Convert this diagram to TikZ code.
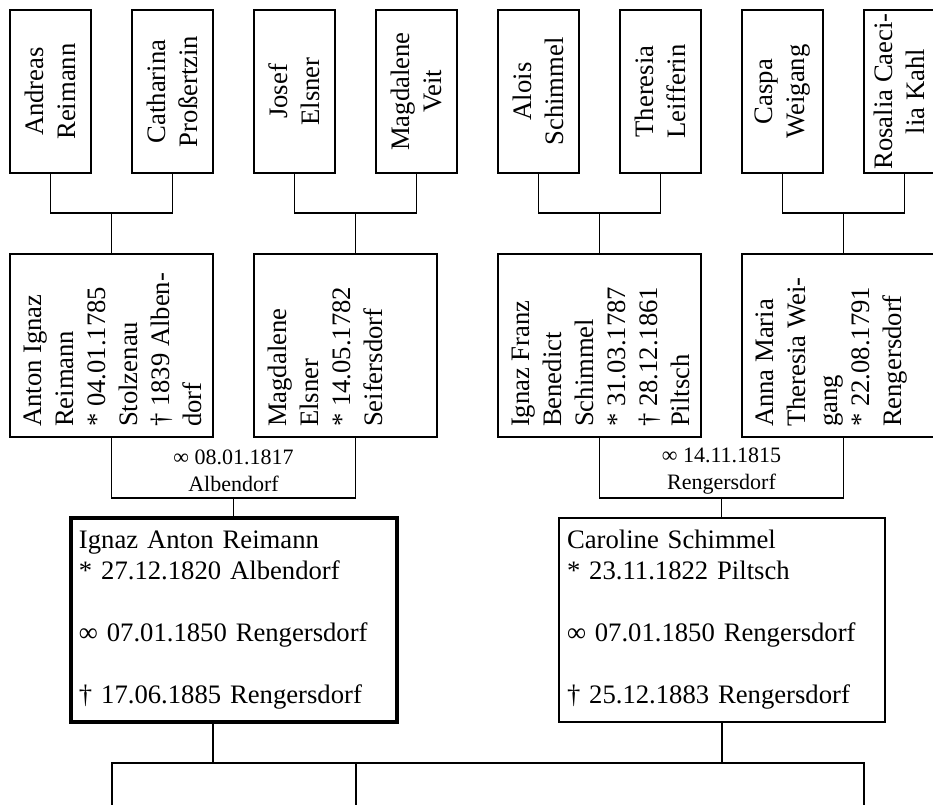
\documentclass[tikz,border=0pt]{standalone}
\usepackage{fontspec}
\setmainfont{Liberation Serif}
\tikzset{
  box/.style={draw, line width=0.9pt, inner sep=0pt},
  topbox/.style={box, rotate=90, minimum width=122.25pt, minimum height=60.75pt,
    align=center, font=\fontsize{20}{24}\selectfont},
  midbox/.style={box, rotate=90, inner xsep=7.5pt, inner ysep=10.5pt,
    font=\fontsize{20}{24}\selectfont},
  childbox/.style={draw, line width=0.9pt, minimum width=244.5pt, minimum height=153pt,
    text width=232.5pt, inner xsep=6pt, inner ysep=0pt, align=left,
    font=\fontsize{20}{23.25}\selectfont},
  marrlabel/.style={inner sep=0pt, align=center, font=\fontsize{16.5}{20}\selectfont},
  conn/.style={line width=0.9pt},
}
\newcommand\midtxt[2]{\parbox[c][#1][t]{122.25pt}{\raggedright #2}}
\begin{document}
\begin{tikzpicture}[x=0.75pt,y=-0.75pt]
\useasboundingbox (0,0) rectangle (933,805);
\clip (0,0) rectangle (933,805);
% great-grandparents
\node[topbox] (AR) at (50.5,91.5) {Andreas\\Reimann};
\node[topbox] (CP) at (172.5,91.5) {Catharina\\Proßertzin};
\node[topbox] (JE) at (294.5,91.5) {Josef\\Elsner};
\node[topbox] (MV) at (416.5,91.5) {Magdalene\\Veit};
\node[topbox] (AS) at (538.5,91.5) {Alois\\Schimmel};
\node[topbox] (TL) at (660.5,91.5) {Theresia\\Leifferin};
\node[topbox] (CW) at (782.5,91.5) {Caspa\\Weigang};
\node[topbox] (RK) at (904.5,91.5) {Rosalia Caeci-\\lia Kahl\\[-16pt]\mbox{}};
% grandparents
\node[midbox] (AI) at (111.5,345.5) {\midtxt{131.25pt}{Anton Ignaz\\Reimann\\{*} 04.01.1785\\Stolzenau\\† 1839 Alben-\\dorf}};
\node[midbox] (ME) at (345.5,345.5) {\midtxt{116.25pt}{Magdalene\\Elsner\\{*} 14.05.1782\\Seifersdorf}};
\node[midbox] (IF) at (599.5,345.5) {\midtxt{131.25pt}{Ignaz Franz\\Benedict\\Schimmel\\{*} 31.03.1787\\† 28.12.1861\\Piltsch}};
\node[midbox] (AM) at (843.5,345.5) {\midtxt{131.25pt}{Anna Maria\\Theresia Wei-\\gang\\{*} 22.08.1791\\Rengersdorf}};
% parents
\node[childbox, line width=2.6pt] (IA) at (234,620) {Ignaz Anton Reimann\\{*} 27.12.1820 Albendorf\\[23.25pt]∞ 07.01.1850 Rengersdorf\\[23.25pt]† 17.06.1885 Rengersdorf};
\node[childbox] (CS) at (722,620) {Caroline Schimmel\\{*} 23.11.1822 Piltsch\\[23.25pt]∞ 07.01.1850 Rengersdorf\\[23.25pt]† 25.12.1883 Rengersdorf};
% marriage labels
\node[marrlabel] (m1) at (233.5,471) {∞ 08.01.1817\\Albendorf};
\node[marrlabel] (m2) at (721.5,471) {∞ 14.11.1815\\Rengersdorf};
% junction coordinates
\coordinate (j1) at (111.5,213);
\coordinate (j2) at (355.5,213);
\coordinate (j3) at (599.5,213);
\coordinate (j4) at (843.5,213);
\coordinate (u1) at (233.5,498);
\coordinate (u2) at (721.5,498);
\coordinate (c1) at (213,763);
\coordinate (k1) at (112,805);
\coordinate (k2) at (356,805);
\coordinate (k3) at (864,805);
% top connectors
\draw[conn] (AR.west) -- (AR.west |- j1) -- (CP.west |- j1) -- (CP.west);
\draw[conn] (j1) -- (AI.east);
\draw[conn] (JE.west) -- (JE.west |- j2) -- (MV.west |- j2) -- (MV.west);
\draw[conn] (j2) -- (j2 |- ME.east);
\draw[conn] (AS.west) -- (AS.west |- j3) -- (TL.west |- j3) -- (TL.west);
\draw[conn] (j3) -- (IF.east);
\draw[conn] (CW.west) -- (CW.west |- j4) -- (RK.west |- j4) -- (RK.west);
\draw[conn] (j4) -- (AM.east);
% marriages
\draw[conn] (AI.west) -- (AI.west |- u1) -- (j2 |- u1) -- (j2 |- ME.west);
\draw[conn] (u1) -- (u1 |- IA.north);
\draw[conn] (IF.west) -- (IF.west |- u2) -- (AM.west |- u2) -- (AM.west);
\draw[conn] (u2) -- (u2 |- CS.north);
% children
\draw[conn] (c1 |- IA.south) -- (c1);
\draw[conn] (CS.south) -- (CS.south |- c1);
\draw[conn] (k1) -- (k1 |- c1) -- (k3 |- c1) -- (k3);
\draw[conn] (k2) -- (k2 |- c1);
\end{tikzpicture}
\end{document}
